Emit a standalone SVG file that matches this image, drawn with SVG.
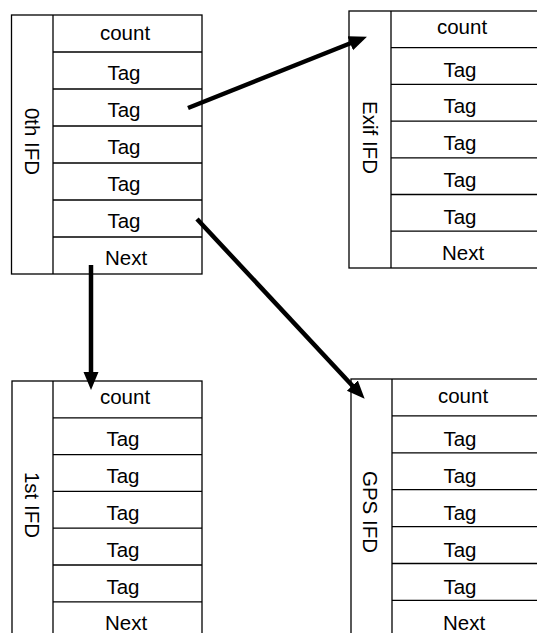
<svg xmlns="http://www.w3.org/2000/svg" width="537" height="633" viewBox="0 0 537 633">
<style>
.box{fill:#fff;stroke:#000;stroke-width:1.3}
.ln{stroke:#000;stroke-width:1.3}
.t{font-family:"Liberation Sans",Arial,sans-serif;font-size:20.5px;fill:#000;text-anchor:middle}
.con{stroke:#000;stroke-width:4.5;fill:none;marker-end:url(#ah)}
</style>
<defs>
<marker id="ah" markerUnits="userSpaceOnUse" markerWidth="20" markerHeight="16" refX="9" refY="7.5" orient="auto">
<path d="M0,0 L18,7.5 L0,15 z" fill="#000"/>
</marker>
</defs>
<rect width="537" height="633" fill="#fff"/>

<g id="ifd0">
<rect class="box" x="11.5" y="15" width="190.5" height="259"/>
<line class="ln" x1="53" y1="15" x2="53" y2="274"/>
<line class="ln" x1="53" y1="52" x2="202" y2="52"/>
<line class="ln" x1="53" y1="89" x2="202" y2="89"/>
<line class="ln" x1="53" y1="126" x2="202" y2="126"/>
<line class="ln" x1="53" y1="163" x2="202" y2="163"/>
<line class="ln" x1="53" y1="200" x2="202" y2="200"/>
<line class="ln" x1="53" y1="237" x2="202" y2="237"/>
<text class="t" transform="translate(25,141.5) rotate(90)">0th IFD</text>
<text class="t" x="125" y="40">count</text>
<text class="t" x="124" y="80">Tag</text>
<text class="t" x="124" y="117">Tag</text>
<text class="t" x="124" y="154">Tag</text>
<text class="t" x="124" y="191">Tag</text>
<text class="t" x="124" y="228">Tag</text>
<text class="t" x="126" y="265">Next</text>
</g>

<g id="exif">
<rect class="box" x="349" y="11" width="200" height="257"/>
<line class="ln" x1="391" y1="11" x2="391" y2="268"/>
<line class="ln" x1="391" y1="47.7" x2="537" y2="47.7"/>
<line class="ln" x1="391" y1="84.4" x2="537" y2="84.4"/>
<line class="ln" x1="391" y1="121.1" x2="537" y2="121.1"/>
<line class="ln" x1="391" y1="157.8" x2="537" y2="157.8"/>
<line class="ln" x1="391" y1="194.5" x2="537" y2="194.5"/>
<line class="ln" x1="391" y1="231.2" x2="537" y2="231.2"/>
<text class="t" transform="translate(363,137.5) rotate(90)">Exif IFD</text>
<text class="t" x="462" y="34">count</text>
<text class="t" x="460" y="77">Tag</text>
<text class="t" x="460" y="113">Tag</text>
<text class="t" x="460" y="150">Tag</text>
<text class="t" x="460" y="187">Tag</text>
<text class="t" x="460" y="224">Tag</text>
<text class="t" x="463" y="260">Next</text>
</g>

<g id="ifd1">
<rect class="box" x="12" y="381" width="190" height="270"/>
<line class="ln" x1="53" y1="381" x2="53" y2="640"/>
<line class="ln" x1="53" y1="417.8" x2="202" y2="417.8"/>
<line class="ln" x1="53" y1="454.6" x2="202" y2="454.6"/>
<line class="ln" x1="53" y1="491.4" x2="202" y2="491.4"/>
<line class="ln" x1="53" y1="528.2" x2="202" y2="528.2"/>
<line class="ln" x1="53" y1="565" x2="202" y2="565"/>
<line class="ln" x1="53" y1="601.8" x2="202" y2="601.8"/>
<text class="t" transform="translate(25,505) rotate(90)">1st IFD</text>
<text class="t" x="125" y="404">count</text>
<text class="t" x="123" y="446">Tag</text>
<text class="t" x="123" y="483">Tag</text>
<text class="t" x="123" y="520">Tag</text>
<text class="t" x="123" y="557">Tag</text>
<text class="t" x="123" y="594">Tag</text>
<text class="t" x="126" y="630">Next</text>
</g>

<g id="gps">
<rect class="box" x="351" y="379" width="200" height="270"/>
<line class="ln" x1="392" y1="379" x2="392" y2="640"/>
<line class="ln" x1="392" y1="415.9" x2="537" y2="415.9"/>
<line class="ln" x1="392" y1="452.8" x2="537" y2="452.8"/>
<line class="ln" x1="392" y1="489.7" x2="537" y2="489.7"/>
<line class="ln" x1="392" y1="526.6" x2="537" y2="526.6"/>
<line class="ln" x1="392" y1="563.5" x2="537" y2="563.5"/>
<line class="ln" x1="392" y1="600.4" x2="537" y2="600.4"/>
<text class="t" transform="translate(363,512) rotate(90)">GPS IFD</text>
<text class="t" x="463" y="403">count</text>
<text class="t" x="460" y="446">Tag</text>
<text class="t" x="460" y="483">Tag</text>
<text class="t" x="460" y="520">Tag</text>
<text class="t" x="460" y="557">Tag</text>
<text class="t" x="460" y="594">Tag</text>
<text class="t" x="464" y="630">Next</text>
</g>

<g id="connectors">
<line class="con" x1="188" y1="108" x2="358.6" y2="40"/>
<line class="con" x1="197" y1="219" x2="358.5" y2="392.2"/>
<line class="con" x1="91" y1="265" x2="91" y2="381"/>
</g>
</svg>
